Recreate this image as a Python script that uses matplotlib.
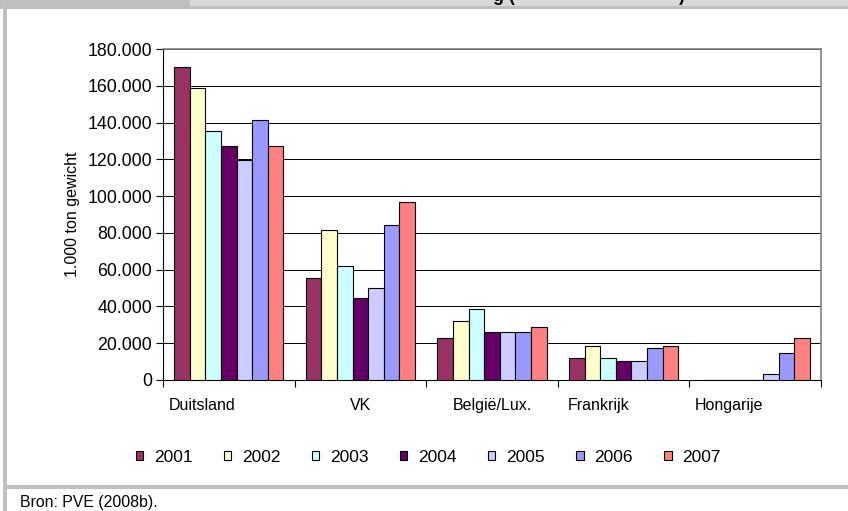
import matplotlib
matplotlib.use("Agg")
import matplotlib.pyplot as plt
from matplotlib.patches import Rectangle
from matplotlib.ticker import FuncFormatter, FixedLocator
import numpy as np

plt.rcParams['font.family'] = ['Liberation Sans', 'DejaVu Sans']

# data (1.000 ton gewicht)
countries = ['Duitsland', 'VK', 'België/Lux.', 'Frankrijk', 'Hongarije']
years = ['2001', '2002', '2003', '2004', '2005', '2006', '2007']
v2001 = [170400, 55300, 22700, 12200, 0]
v2002 = [159000, 81700, 32300, 18300, 0]
v2003 = [135400, 62200, 38600, 12200, 0]
v2004 = [127400, 44800, 26100, 10300, 0]
v2005 = [119600, 49900, 26100, 10300, 3300]
v2006 = [141600, 84300, 26100, 17200, 14900]
v2007 = [127400, 96600, 29000, 18300, 22700]
series = [v2001, v2002, v2003, v2004, v2005, v2006, v2007]

colors = ['#993366', '#FFFFCC', '#CCFFFF', '#660066', '#CCCCFF', '#9999FF', '#FF8080']
label_shift = [-0.2, 0.0, 0.0, -0.19, -0.2]  # category label offsets as in the source

W, H = 848, 511
fig = plt.figure(figsize=(W / 100, H / 100), dpi=100)


def px_rect(x0, y0, x1, y1, color):
    fig.add_artist(Rectangle((x0 / W, 1 - y1 / H), (x1 - x0) / W, (y1 - y0) / H,
                             transform=fig.transFigure, facecolor=color,
                             edgecolor='none', zorder=0))


# page frame
px_rect(190, 0, W, 6, '#d9d9d9')
px_rect(0, 0, 190, 9, '#bfbfbf')
px_rect(0, 6, W, 9, '#bfbfbf')
px_rect(3, 0, 7, H, '#c0c0c0')
px_rect(7, 485, W, 489, '#bfbfbf')

# title of the page above, only its lower edge is in view
fig.text(493 / W, 1 - 1 / H, 'g (', fontsize=13, weight='bold', va='baseline', zorder=5)
fig.text(678 / W, 1 - 1 / H, ')', fontsize=13, weight='bold', va='baseline', zorder=5)

ax = fig.add_axes([163 / W, 1 - 380 / H, 658 / W, 331 / H])

x = np.arange(len(countries))
w = 0.1187
for i, vals in enumerate(series):
    ax.bar(x + (i - 3) * w, vals, width=w, color=colors[i], edgecolor='black',
           linewidth=0.8, label=years[i], zorder=3)

ax.set_xlim(-0.5, len(countries) - 0.5)
ax.set_ylim(0, 180000)
ax.set_yticks(np.arange(0, 180001, 20000))
ax.yaxis.set_major_formatter(FuncFormatter(lambda v, p: f"{int(v):,}".replace(',', '.')))
ax.yaxis.grid(True, color='black', linewidth=0.7, zorder=1)
ax.set_axisbelow(True)

ax.xaxis.set_major_locator(FixedLocator(np.arange(-0.5, len(countries), 1.0)))
ax.set_xticklabels([])
for i, name in enumerate(countries):
    ax.text(i + label_shift[i], -0.078, name, transform=ax.get_xaxis_transform(),
            ha='center', va='center', fontsize=11.5)

ax.tick_params(axis='both', direction='out', length=5, width=0.8, color='black')
ax.tick_params(axis='y', pad=3, labelsize=12.8)
for side in ['left', 'bottom']:
    ax.spines[side].set_color('black')
    ax.spines[side].set_linewidth(0.8)
for side in ['top', 'right']:
    ax.spines[side].set_color('#808080')
    ax.spines[side].set_linewidth(1.2)

ax.set_ylabel('1.000 ton gewicht', fontsize=11.5)
ax.yaxis.set_label_coords((80 - 163) / 658, 0.5)

fig.legend(loc='center', bbox_to_anchor=(428 / W, 1 - 457 / H), ncol=7,
           frameon=False, fontsize=12.5, handlelength=0.45, handleheight=0.45,
           handletextpad=0.6, columnspacing=1.8)

fig.text(20 / W, 1 - 507 / H, 'Bron: PVE (2008b).', fontsize=11.4, va='baseline')

fig.savefig('out.png', dpi=100)
